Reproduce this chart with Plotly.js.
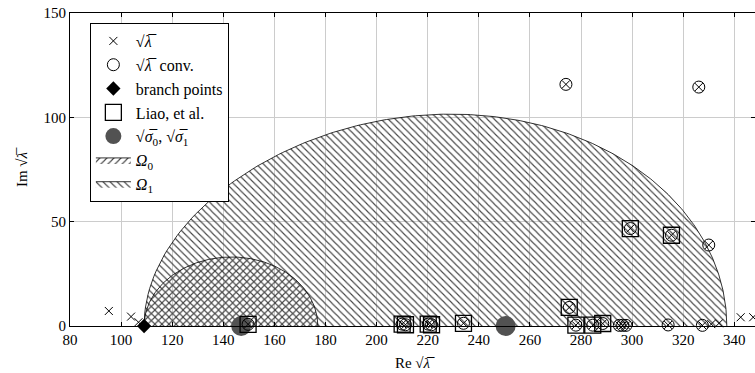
<!DOCTYPE html>
<html>
<head>
<meta charset="utf-8">
<script src="https://cdn.plot.ly/plotly-3.0.1.min.js"></script>
<style>html,body{margin:0;padding:0;overflow:hidden;background:#fff}</style>
</head>
<body>
<div id="chart" style="width:755px;height:373px"></div>
<script>
// branch point (real part of sqrt) and sqrt(sigma_k)
const branchRe = [109];
const branchIm = [0];
const sigmaRe = [147, 250.5];
const sigmaIm = [0, 0];
const regionNames = ['<i>Ω</i><sub>0</sub>', '<i>Ω</i><sub>1</sub>'];

// sqrt(lambda) eigenvalues (x marks)
const lamRe = [95.2, 103.9, 106.8, 149.7, 210, 211.3, 220.2, 221.5, 234, 274.1, 275.4, 278, 284.6, 288.5,
               295, 296.3, 297.6, 299.3, 314.1, 315.4, 326.1, 327.5, 330, 331, 334, 342.5, 347.4];
const lamIm = [7.2, 4.5, 1.8, 0.8, 0.9, 0.6, 0.9, 0.6, 1.3, 115.8, 8.9, 0.4, 0.4, 1.2,
               0.3, 0.3, 0.3, 46.7, 0.5, 43.5, 114.5, 0.3, 38.8, 0.9, 1.3, 4.2, 4.2];
// converged sqrt(lambda) (circles)
const convRe = [149.7, 210, 211.3, 220.2, 221.5, 234, 274.1, 275.4, 278, 284.6, 288.5,
                295, 296.3, 297.6, 299.3, 314.1, 315.4, 326.1, 327.5, 330];
const convIm = [0.8, 0.9, 0.6, 0.9, 0.6, 1.3, 115.8, 8.9, 0.4, 0.4, 1.2,
                0.3, 0.3, 0.3, 46.7, 0.5, 43.5, 114.5, 0.3, 38.8];
// Liao, et al. (squares)
const liaoRe = [149.7, 210, 211.3, 220.2, 221.5, 234, 275.4, 278, 284.6, 288.5, 299.3, 315.4];
const liaoIm = [0.8, 0.9, 0.6, 0.9, 0.6, 1.3, 8.9, 0.4, 0.4, 1.2, 46.7, 43.5];

// Region Omega_k: disc in lambda plane centred at sigma_k passing through the branch point,
// shown in the sqrt(lambda) plane (upper half).
function regionBoundary(s, b) {
  const c = s * s, r = c - b * b;
  const xs = [], ys = [];
  const n = 240;
  for (let i = 0; i <= n; i++) {
    const t = Math.PI * i / n;
    const wr = c + r * Math.cos(t), wi = r * Math.sin(t);
    const m = Math.hypot(wr, wi);
    xs.push(Math.sqrt(Math.max(0, (m + wr) / 2)));
    ys.push(Math.sqrt(Math.max(0, (m - wr) / 2)));
  }
  return {xs, ys};
}

const serif = '"Liberation Serif", "Times New Roman", serif';
const SQ = '√<i>λ̅</i>';
const traces = [];
const patShapes = ['/', '\\'];
const ranks = [6, 7];
for (let k = sigmaRe.length - 1; k >= 0; k--) {
  const bd = regionBoundary(sigmaRe[k], branchRe[0]);
  traces.push({
    type: 'scatter', mode: 'lines', x: bd.xs, y: bd.ys, fill: 'toself',
    fillcolor: 'rgba(0,0,0,0)',
    fillpattern: {shape: patShapes[k], fgcolor: '#444', bgcolor: 'rgba(0,0,0,0)', size: 5, solidity: 0.22},
    line: {color: 'black', width: 0.8},
    name: regionNames[k], legendrank: ranks[k], hoverinfo: 'skip'
  });
}
traces.push({
  type: 'scatter', mode: 'markers', x: sigmaRe, y: sigmaIm, cliponaxis: false,
  marker: {symbol: 'circle', size: 20, color: '#525252'},
  name: '√<i>σ̅</i><sub>0</sub>, √<i>σ̅</i><sub>1</sub>', legendrank: 5
});
traces.push({
  type: 'scatter', mode: 'markers', x: liaoRe, y: liaoIm, cliponaxis: false,
  marker: {symbol: 'square-open', size: 16, color: 'black', line: {width: 1.3, color: 'black'}},
  name: 'Liao, et al.', legendrank: 4
});
traces.push({
  type: 'scatter', mode: 'markers', x: lamRe, y: lamIm, cliponaxis: false,
  marker: {symbol: 'x-thin-open', size: 8, color: 'black', line: {width: 1, color: 'black'}},
  name: SQ, legendrank: 1
});
traces.push({
  type: 'scatter', mode: 'markers', x: convRe, y: convIm, cliponaxis: false,
  marker: {symbol: 'circle-open', size: 12, color: 'black', line: {width: 1, color: 'black'}},
  name: SQ + '\u00a0 conv.', legendrank: 2
});
traces.push({
  type: 'scatter', mode: 'markers', x: branchRe, y: branchIm, cliponaxis: false,
  marker: {symbol: 'diamond', size: 11, color: 'black'},
  name: 'branch points', legendrank: 3
});

const axisCommon = {
  showgrid: true, gridcolor: '#cccccc', gridwidth: 1,
  showline: true, linecolor: 'black', linewidth: 1, mirror: 'ticks',
  ticks: 'inside', ticklen: 4, tickcolor: 'black', zeroline: false,
  tickfont: {family: serif, size: 15, color: 'black'}
};
const layout = {
  width: 755, height: 373,
  margin: {l: 70, r: 0, t: 13, b: 47},
  paper_bgcolor: 'white', plot_bgcolor: 'white',
  font: {family: serif, color: 'black', size: 15},
  showlegend: true,
  xaxis: Object.assign({}, axisCommon, {range: [80, 348.1], tick0: 80, dtick: 20,
    title: {text: 'Re ' + SQ, font: {family: serif, size: 15}, standoff: 10}}),
  yaxis: Object.assign({}, axisCommon, {range: [0, 150], tick0: 0, dtick: 50,
    title: {text: 'Im ' + SQ, font: {family: serif, size: 15}, standoff: 12}}),
  legend: {
    x: 0.029, y: 0.968, xanchor: 'left', yanchor: 'top',
    bgcolor: 'white', bordercolor: 'black', borderwidth: 1,
    font: {family: serif, size: 16, color: 'black'},
    traceorder: 'normal', itemsizing: 'trace', itemwidth: 35
  }
};
Plotly.newPlot('chart', traces, layout, {displayModeBar: false, staticPlot: true});
</script>
</body>
</html>
